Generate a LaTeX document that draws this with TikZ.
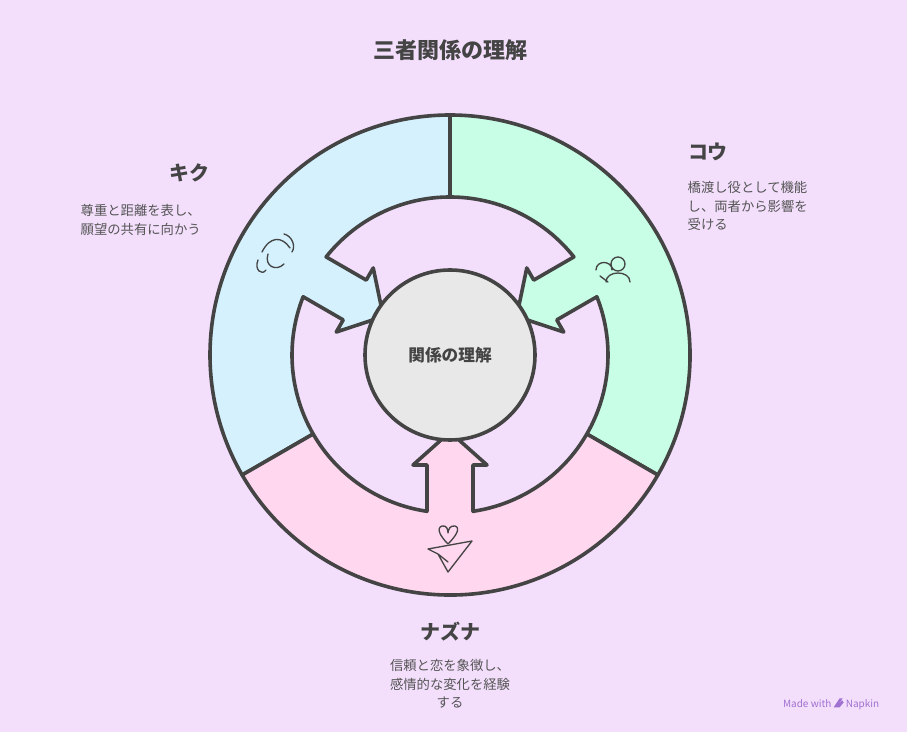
\documentclass[tikz,border=0pt]{standalone}
\usepackage{fontspec}
\setmainfont{Noto Sans CJK JP}
\definecolor{bg}{HTML}{F3DFFC}
\definecolor{ln}{HTML}{444444}
\definecolor{cb}{HTML}{D4F1FD}
\definecolor{cg}{HTML}{C8FDE6}
\definecolor{cp}{HTML}{FFD7EE}
\definecolor{cc}{HTML}{E8E8E8}
\definecolor{tx}{HTML}{555555}
\definecolor{nap}{HTML}{A070D0}
\tikzset{
 seg/.style={draw=ln,line width=2.7pt,line join=round},
 ttl/.style={font=\bfseries\fontsize{15}{18}\selectfont,text=ln},
 desc/.style={font=\fontsize{10}{13.8}\selectfont,text=tx},
 icon/.style={draw=ln,line width=1pt,line cap=round,line join=round}
}
\newcommand{\sector}[2]{%
 \begin{scope}[shift={(450,377)},rotate=#1]
 \path[seg,fill=#2] (-60:240) arc[start angle=-60,end angle=60,radius=240]
  -- (60:158) arc[start angle=60,end angle=8.37,radius=158]
  -- (110,23) -- (110,37) -- (77,0) -- (110,-37) -- (110,-23) -- (-8.37:158)
  arc[start angle=-8.37,end angle=-60,radius=158] -- cycle;
 \end{scope}}
\begin{document}
\begin{tikzpicture}[x=0.75pt,y=0.75pt]
\fill[bg] (0,0) rectangle (907,732);
\useasboundingbox (0,0) rectangle (907,732);
\node[ttl,font=\bfseries\fontsize{16.5}{19}\selectfont] (title) at (450,682) {三者関係の理解};
\sector{150}{cb}
\sector{30}{cg}
\sector{270}{cp}
\node[circle,draw=ln,line width=2.7pt,fill=cc,minimum size=127.5pt,inner sep=0pt,font=\bfseries\fontsize{12.5}{14}\selectfont,text=ln] (center) at (450,377) {関係の理解};
% labels
\node[ttl,anchor=east] (kiku) at (214,559) {キク};
\node[desc,anchor=north west,align=left] (kikud) at (76,532) {尊重と距離を表し、\\願望の共有に向かう};
\node[ttl,anchor=west] (kou) at (684,580) {コウ};
\node[desc,anchor=north west,align=left] (koud) at (683,555) {橋渡し役として機能\\し、両者から影響を\\受ける};
\node[ttl] (nazuna) at (450,100) {ナズナ};
\node[desc,anchor=north,align=center] (nazd) at (450,77) {信頼と恋を象徴し、\\感情的な変化を経験\\する};
\node[font=\fontsize{7.5}{9}\selectfont,text=nap,anchor=east] (nap) at (884,28) {Made with \tikz[baseline=0pt,x=0.75pt,y=0.75pt]{\fill[nap] (0,0) -- (3,0) -- (9,9) -- (6,9) -- cycle (3,0)--(6,0)--(10,5)--(8.5,7)--cycle;} Napkin};
% icons (simplified)
\draw[icon] (448,188) .. controls (440,196) and (436,204) .. (442,206) .. controls (447,207) and (448,202) .. (448,199) .. controls (448,202) and (450,207) .. (455,206) .. controls (461,204) and (456,196) .. (448,188);
\draw[icon] (428,183) -- (472,191) -- (448,160) -- (438,178) -- cycle (438,178) -- (448,170);
\draw[icon] (618,468) circle (7) (606,450) .. controls (606,462) and (630,462) .. (630,450) (596,462) .. controls (596,472) and (612,472) .. (612,462) (608,450) -- (600,456);
\draw[icon] (262,480) .. controls (270,496) and (282,496) .. (290,484) (268,478) .. controls (264,466) and (276,460) .. (284,468) (258,472) .. controls (254,462) and (262,456) .. (266,462) (284,498) .. controls (292,496) and (296,486) .. (292,480);
\end{tikzpicture}
\end{document}
